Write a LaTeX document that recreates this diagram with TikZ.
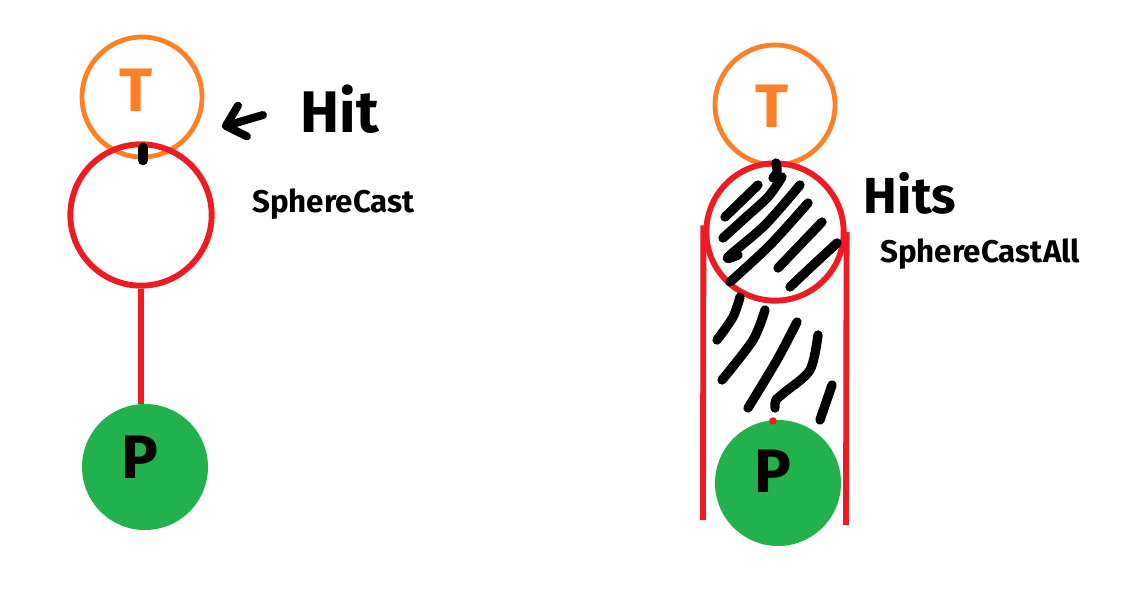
\documentclass[tikz,border=0pt]{standalone}
\usepackage{fontspec}
\setmainfont{Fira Sans}
\usetikzlibrary{arrows.meta}
\definecolor{paintorange}{RGB}{255,127,39}
\definecolor{paintred}{RGB}{237,28,36}
\definecolor{paintgreen}{RGB}{34,177,76}
\tikzset{
  tball/.style={circle,draw=paintorange,line width=3.6pt,minimum size=90pt,inner sep=0pt},
  sball/.style={circle,draw=paintred,line width=4.4pt,inner sep=0pt},
  pball/.style={circle,fill=paintgreen,minimum size=94.5pt,inner sep=0pt},
  ray/.style={paintred,line width=4.4pt},
  hatch/.style={line width=7pt,line cap=round,line join=round},
  scribble/.style={inner sep=0pt,font=\bfseries\fontsize{46}{46}\selectfont},
  castlabel/.style={anchor=west,inner sep=0pt,font=\bfseries\fontsize{23.5}{23.5}\selectfont}
}
\begin{document}
\begin{tikzpicture}[x=0.75pt,y=-0.75pt]
\fill[white] (0,0) rectangle (1148,600);
\useasboundingbox (0,0) rectangle (1148,600);
\node[tball] (tl) at (142,97) {};
\node[sball,minimum size=106pt] (cl) at (141,215) {};
\node[pball] (pl) at (145,467) {};
\draw[ray] (cl.south) -- (cl.south |- pl.north);
\node[scribble,text=paintorange] (tlt) at (136,90) {T};
\node[scribble] (plt) at (140,457) {P};
\draw[hatch,line width=8pt] (143,148) -- (143,160);
\node[scribble,font=\bfseries\fontsize{44}{44}\selectfont] (hit) at (340,109) {Hit};
\coordinate (hittail) at (263,115);
\coordinate (hittip) at (222,127);
\draw[hatch,line width=6pt,-{Straight Barb[round,length=13pt,width=24pt]}] (hittail) -- (hittip);
\node[castlabel] (sc) at (252,204) {SphereCast};
\node[tball] (tr) at (775,105) {};
\node[sball,minimum size=103pt] (cr) at (775,232) {};
\node[pball] (pr) at (778,483) {};
\coordinate (capl) at (703,520);
\coordinate (capr) at (846,525);
\draw[ray] ([yshift=5pt]cr.west) -- (capl);
\draw[ray] (cr.east) -- (capr);
\fill[paintred] (773,421) circle (2.8pt);
\node[scribble,text=paintorange] (trt) at (772,106) {T};
\node[scribble] (prt) at (773,471) {P};
\draw[hatch] plot[smooth] coordinates {(776,163) (777,172) (773,178)};
\draw[hatch] plot[smooth] coordinates {(758,185) (725,217)};
\draw[hatch] plot[smooth] coordinates {(782,177) (768,197) (745,218) (723,238)};
\draw[hatch] plot[smooth] coordinates {(800,185) (765,225) (728,257) (738,255)};
\draw[hatch] plot[smooth] coordinates {(808,203) (770,245) (730,282)};
\draw[hatch] plot[smooth] coordinates {(822,222) (778,268)};
\draw[hatch] plot[smooth] coordinates {(837,243) (810,268) (790,287)};
\draw[hatch] plot[smooth] coordinates {(740,297) (733,317) (717,340)};
\draw[hatch] plot[smooth] coordinates {(765,310) (753,340) (722,380)};
\draw[hatch] plot[smooth] coordinates {(797,322) (777,360) (748,408)};
\draw[hatch] plot[smooth] coordinates {(818,335) (810,370) (785,392) (776,400) (775,408)};
\draw[hatch] plot[smooth] coordinates {(832,385) (820,420)};
\node[scribble,font=\bfseries\fontsize{38}{38}\selectfont] (hits) at (910,193) {Hits};
\node[castlabel] (sca) at (880,254) {SphereCastAll};
\end{tikzpicture}
\end{document}
